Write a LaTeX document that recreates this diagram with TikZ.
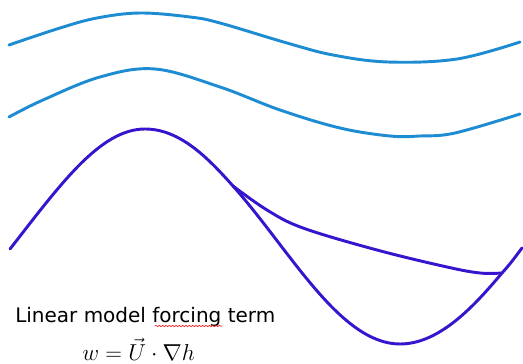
\documentclass[tikz,border=0pt]{standalone}
\usepackage{fontspec}
\newfontfamily\labelfont{DejaVu Sans}
\usetikzlibrary{decorations.pathmorphing}

\definecolor{airblue}{RGB}{30,140,210}
\definecolor{relief}{RGB}{55,20,205}

\begin{document}
\begin{tikzpicture}[x=0.75pt,y=-0.75pt, line join=round, line cap=round]
    \useasboundingbox (0,0) rectangle (523,363);

    % Lignes de courant
    \draw[airblue, line width=2.2pt] plot[smooth, tension=0.6] coordinates {
        (9,45) (60,28) (97,18) (140,13) (190,17) (220,23)
        (287,43) (333,55) (388,62) (457,59) (520,42)};
    \draw[airblue, line width=2.2pt] plot[smooth, tension=0.6] coordinates {
        (9,117) (43,100) (100,77) (155,69) (220,87) (280,110)
        (340,128) (390,136) (420,136) (455,133) (520,114)};

    % Relief
    \coordinate (S) at (233,186);
    \coordinate (E) at (502,273);
    \draw[relief, line width=2.2pt] (10,249)
        .. controls (60,185) and (100,129) .. (145,129)
        .. controls (180,129) and (208,158) .. (S)
        .. controls (290,250) and (340,344) .. (400,344)
        .. controls (440,344) and (475,305) .. (E)
        .. controls (510,264) .. (522,248);
    % Branche
    \draw[relief, line width=2.2pt] plot[smooth, tension=0.6] coordinates {
        (S) (267,210) (303,228) (377,250) (447,267) (480,273) (E)};

    % Textes
    \node[anchor=base west, inner sep=0pt, font=\labelfont\fontsize{15}{17}\selectfont]
        (titre) at (15,322) {Linear model forcing term};
    \draw[red, line width=0.4pt, decorate,
        decoration={snake, amplitude=0.6pt, segment length=2.5pt}]
        (155,326) -- (222,326);
    \node[anchor=base west, inner sep=0pt, font=\fontsize{18.5}{20}\selectfont]
        (forcage) at (82,360) {$w=\vec{U}\cdot\nabla h$};
\end{tikzpicture}
\end{document}
